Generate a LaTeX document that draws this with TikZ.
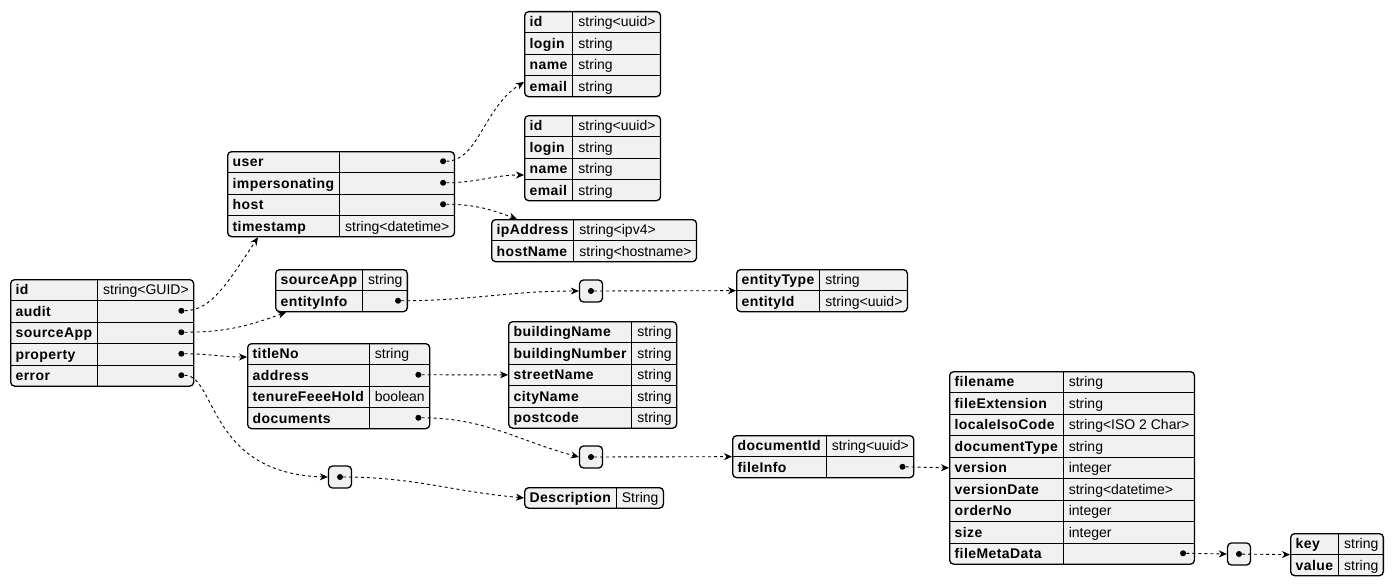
\documentclass[tikz,border=0pt]{standalone}
\usepackage{fontspec}
\setmainfont[BoldFeatures={LetterSpace=3}]{Liberation Sans}
\usepackage{array}
\usetikzlibrary{arrows.meta}

\definecolor{jfill}{HTML}{F1F1F1}
\setlength{\arrayrulewidth}{1pt}
\setlength{\tabcolsep}{5pt}
\newcommand{\jstrut}{\rule[-5.5pt]{0pt}{20.5pt}}
\newcommand{\jkv}[1]{\begin{tabular}{>{\jstrut\bfseries}l|l}#1\end{tabular}}

\begin{document}
\begin{tikzpicture}[
x=1pt,y=-1pt,
jtable/.style={
rectangle,draw,rounded corners=4pt,
line width=1.3pt,fill=jfill,
inner sep=0pt,anchor=north west,
font=\fontsize{14}{16}\selectfont
},
jbox/.style={
rectangle,draw,rounded corners=4pt,
line width=1.3pt,fill=jfill,
minimum width=23pt,minimum height=22pt,inner sep=0pt
},
jdot/.style={circle,fill=black,inner sep=0pt,minimum size=6pt},
link/.style={-{Stealth[length=8pt,width=7pt,inset=2.5pt]},
line width=0.9pt,dash pattern=on 3pt off 3pt}
]

\useasboundingbox (0,0) rectangle (1394,586);

% =======================
% ROOT OBJECT
% =======================

\node[jtable] (root) at (10,279)
{\jkv{id & string<GUID> \\\hline
audit & \\\hline
sourceApp & \\\hline
property & \\\hline
error & }};

% =======================
% AUDIT BRANCH
% =======================

\node[jtable] (audit) at (227,151)
{\jkv{user & \\\hline
impersonating & \\\hline
host & \\\hline
timestamp & string<datetime>}};

\node[jtable] (user) at (524,11)
{\jkv{id & string<uuid> \\\hline
login & string \\\hline
name & string \\\hline
email & string}};

\node[jtable] (imperson) at (524,115)
{\jkv{id & string<uuid> \\\hline
login & string \\\hline
name & string \\\hline
email & string}};

\node[jtable] (host) at (491,219)
{\jkv{ipAddress & string<ipv4> \\\hline
hostName & string<hostname>}};

% =======================
% SOURCE APP BRANCH
% =======================

\node[jtable] (srcapp) at (275,269)
{\jkv{sourceApp & string \\\hline
entityInfo & }};

\node[jbox] (entbox) at (591,291) {};

\node[jtable] (entity) at (736,269)
{\jkv{entityType & string \\\hline
entityId & string<uuid>}};

% =======================
% PROPERTY BRANCH
% =======================

\node[jtable] (prop) at (247,343)
{\jkv{titleNo & string \\\hline
address & \\\hline
tenureFeeeHold & boolean \\\hline
documents & }};

\node[jtable] (addr) at (508,321)
{\jkv{buildingName & string \\\hline
buildingNumber & string \\\hline
streetName & string \\\hline
cityName & string \\\hline
postcode & string}};

\node[jbox] (docbox) at (591,457) {};

\node[jtable] (doc) at (732,435)
{\jkv{documentId & string<uuid> \\\hline
fileInfo & }};

\node[jtable] (file) at (949,371)
{\jkv{filename & string \\\hline
fileExtension & string \\\hline
localeIsoCode & string<ISO 2 Char> \\\hline
documentType & string \\\hline
version & integer \\\hline
versionDate & string<datetime> \\\hline
orderNo & integer \\\hline
size & integer \\\hline
fileMetaData & }};

\node[jbox] (metabox) at (1239,554) {};

\node[jtable] (keyval) at (1290,533)
{\jkv{key & string \\\hline
value & string}};

% =======================
% ERROR BRANCH
% =======================

\node[jbox] (errbox) at (340,477) {};

\node[jtable] (desc) at (524,487)
{\jkv{Description & String}};

% =======================
% DOTS
% =======================

\node[jdot] (rootaudit) at ([shift={(-13,31.75)}]root.north east) {};
\node[jdot] (rootsrc) at ([shift={(-13,53.25)}]root.north east) {};
\node[jdot] (rootprop) at ([shift={(-13,74.75)}]root.north east) {};
\node[jdot] (rooterr) at ([shift={(-13,96.25)}]root.north east) {};

\node[jdot] (audituser) at ([shift={(-12,10.25)}]audit.north east) {};
\node[jdot] (auditimp) at ([shift={(-12,31.75)}]audit.north east) {};
\node[jdot] (audithost) at ([shift={(-12,53.25)}]audit.north east) {};

\node[jdot] (srcent) at ([shift={(-10,31.75)}]srcapp.north east) {};
\node[jdot] (propaddr) at ([shift={(-12,31.75)}]prop.north east) {};
\node[jdot] (propdocs) at ([shift={(-12,74.75)}]prop.north east) {};
\node[jdot] (docfile) at ([shift={(-12,31.75)}]doc.north east) {};
\node[jdot] (filemeta) at ([shift={(-12,182.25)}]file.north east) {};

\node[jdot] (entboxdot) at (entbox) {};
\node[jdot] (docboxdot) at (docbox) {};
\node[jdot] (metaboxdot) at (metabox) {};
\node[jdot] (errboxdot) at (errbox) {};

% =======================
% ARROWS
% =======================

\draw[link] (rootaudit) .. controls +(30,0) and +(-30,45) .. ([shift={(31,0)}]audit.south west);
\draw[link] (rootsrc) to[out=0,in=-160] ([shift={(11,0)}]srcapp.south west);
\draw[link] (rootprop) to[out=0,in=180] ([shift={(0,14)}]prop.north west);
\draw[link] (rooterr) .. controls +(35,0) and +(-120,-3) .. (errbox.west);

\draw[link] (audituser) .. controls +(35,0) and +(-40,25) .. ([shift={(0,71)}]user.north west);
\draw[link] (auditimp) to[out=0,in=180] ([shift={(0,60)}]imperson.north west);
\draw[link] (audithost) to[out=0,in=160] ([shift={(26,0)}]host.north west);

\draw[link] (srcent) to[out=0,in=180] (entbox.west);
\draw[link] (entboxdot) -- (entity.west);

\draw[link] (propaddr) -- (addr.west);
\draw[link] (propdocs) to[out=0,in=165] (docbox.west);
\draw[link] (docboxdot) -- (doc.west);
\draw[link] (docfile) -- (file.west);
\draw[link] (filemeta) -- (metabox.west);
\draw[link] (metaboxdot) -- (keyval.west);

\draw[link] (errboxdot) to[out=0,in=175] (desc.west);

\end{tikzpicture}
\end{document}
